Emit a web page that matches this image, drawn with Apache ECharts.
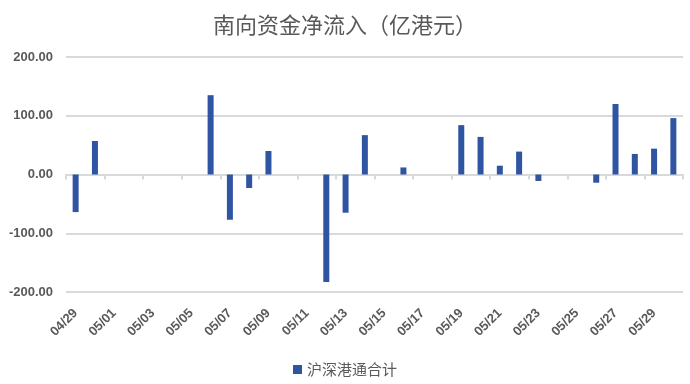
<!DOCTYPE html>
<html>
<head>
<meta charset="utf-8">
<script src="https://cdn.jsdelivr.net/npm/echarts@6/dist/echarts.min.js"></script>
<style>html,body{margin:0;padding:0;background:#fff}#c{width:690px;height:384px}</style>
</head>
<body>
<div id="c"></div>
<script>
var titleText = '南向资金净流入（亿港元）';
var seriesName = '沪深港通合计';
var categories = ['04/29','04/30','05/01','05/02','05/03','05/04','05/05','05/06','05/07','05/08','05/09','05/10','05/11','05/12','05/13','05/14','05/15','05/16','05/17','05/18','05/19','05/20','05/21','05/22','05/23','05/24','05/25','05/26','05/27','05/28','05/29','05/30'];
var netInflow = [-64, 57, null, null, null, null, null, 135, -77, -23, 40, null, null, -183, -65, 67, null, 12, null, null, 84, 64, 15, 39, -11, null, null, -14, 120, 35, 44, 96];
var yTicks = [-200, -100, 0, 100, 200];

var chart = echarts.init(document.getElementById('c'), null, {renderer: 'canvas'});
var txt = '#595959';
var font = 'Liberation Sans';
chart.setOption({
  animation: false,
  title: {
    text: titleText, left: 'center', top: 9,
    textStyle: {fontFamily: 'Noto Sans CJK SC', fontSize: 22, fontWeight: 'normal', color: txt}
  },
  legend: {
    data: [seriesName], bottom: 2, left: 'center',
    icon: 'rect', itemWidth: 9, itemHeight: 9, itemGap: 10,
    textStyle: {fontFamily: 'Noto Sans CJK SC', fontSize: 15, color: txt}
  },
  grid: {left: 66, right: 7, top: 57, bottom: 92, containLabel: false},
  xAxis: [{
    type: 'category', data: categories, position: 'bottom',
    axisLine: {onZero: true, lineStyle: {color: '#d9d9d9', width: 2}},
    axisTick: {show: true, interval: 1, length: 5, lineStyle: {color: '#d9d9d9', width: 2}},
    axisLabel: {show: false},
    splitLine: {show: false}
  }, {
    type: 'category', data: categories, position: 'bottom',
    axisLine: {show: false, onZero: false},
    axisTick: {show: false},
    axisLabel: {show: true, interval: 1, rotate: 45, margin: 19,
      fontFamily: font, fontWeight: 'bold', fontSize: 13, color: txt},
    splitLine: {show: false}
  }],
  yAxis: {
    type: 'value', min: yTicks[0], max: yTicks[yTicks.length - 1], interval: 100,
    axisLine: {show: false}, axisTick: {show: false},
    axisLabel: {margin: 13, fontFamily: font, fontWeight: 'bold', fontSize: 13, color: txt,
      formatter: function (v) { return v.toFixed(2); }},
    splitLine: {lineStyle: {color: '#d9d9d9', width: 2}}
  },
  series: [{
    name: seriesName, type: 'bar', xAxisIndex: 0, data: netInflow,
    barWidth: 6, itemStyle: {color: '#2f54a1'}
  }]
});
</script>
</body>
</html>
